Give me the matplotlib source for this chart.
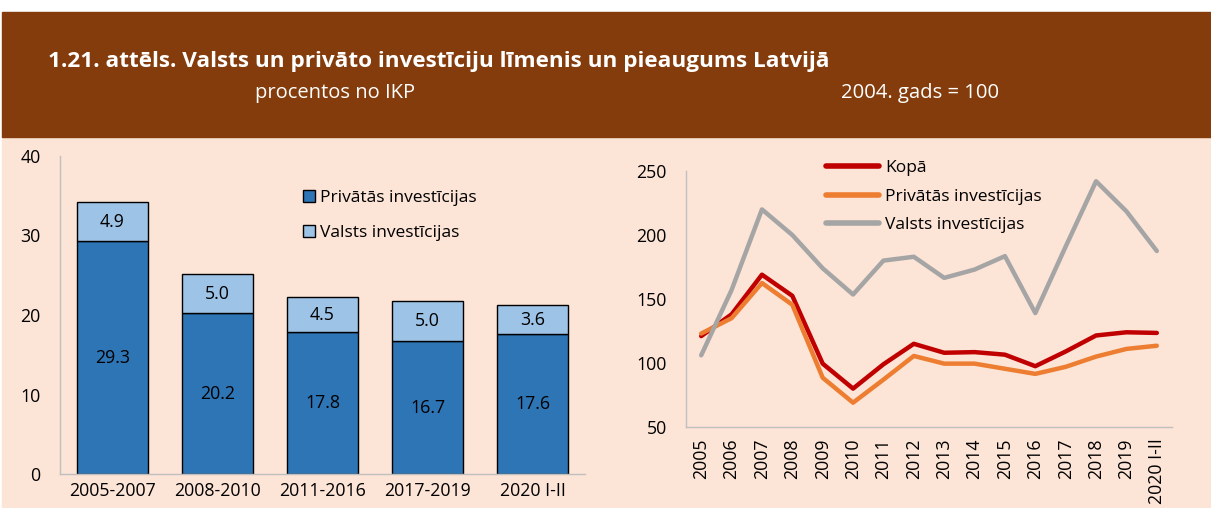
import matplotlib
matplotlib.use("Agg")
import matplotlib.pyplot as plt
from matplotlib.patches import Rectangle
from matplotlib.lines import Line2D

# ---- data ----
bar_categories = ["2005-2007", "2008-2010", "2011-2016", "2017-2019", "2020 I-II"]
private_share = [29.3, 20.2, 17.8, 16.7, 17.6]
public_share = [4.9, 5.0, 4.5, 5.0, 3.6]

years = ["2005", "2006", "2007", "2008", "2009", "2010", "2011", "2012",
         "2013", "2014", "2015", "2016", "2017", "2018", "2019", "2020 I-II"]
total_idx = [121, 138, 169, 152.5, 99.5, 80, 99, 115, 108, 108.5, 106.5, 97.5, 109, 121.5, 124, 123.5]
private_idx = [123, 135, 162.5, 145.5, 88.5, 69, 87, 105.5, 99.5, 99.5, 95.5, 91.5, 97, 105, 111, 113.5]
public_idx = [106, 157, 220, 200, 174, 153.5, 180, 183, 166.5, 173, 183.5, 139, 191, 242, 218.5, 187.5]

title = "1.21. attēls. Valsts un privāto investīciju līmenis un pieaugums Latvijā"
sub_left = "procentos no IKP"
sub_right = "2004. gads = 100"

# ---- style ----
BROWN = "#843C0C"
PALE = "#FCE4D6"
DARK_BLUE = "#2E75B6"
LIGHT_BLUE = "#9DC3E6"
RED = "#C00000"
ORANGE = "#ED7D31"
GREY = "#A5A5A5"
AXIS = "#BFBFBF"

plt.rcParams['font.family'] = ['Open Sans', 'DejaVu Sans']

W, H = 1211, 508
fig = plt.figure(figsize=(W / 100, H / 100), dpi=100, facecolor="white")

def fx(px):
    return px / W

def fy(py):
    return 1 - py / H

fig.patches.append(Rectangle((fx(2), fy(508)), fx(1211 - 2), (508 - 137) / H,
                             transform=fig.transFigure, color=PALE, zorder=-5))
fig.patches.append(Rectangle((fx(2), fy(137)), fx(1211 - 2), (137 - 12) / H,
                             transform=fig.transFigure, color=BROWN, zorder=-5))

fig.text(fx(48), fy(62), title, color="white", fontsize=16.2, fontweight="bold",
         va="center", ha="left")
fig.text(fx(255), fy(93), sub_left, color="white", fontsize=14.5, va="center", ha="left")
fig.text(fx(841), fy(93), sub_right, color="white", fontsize=14.6, va="center", ha="left")

FS = 12.8
FL = 12.5

# ---- left: stacked bars ----
L0, L1, LB, LT = 60, 585, 474, 156
axL = fig.add_axes([fx(L0), fy(LB), fx(L1 - L0), (LB - LT) / H])
axL.set_facecolor("none")
x = list(range(len(bar_categories)))
b1 = axL.bar(x, private_share, width=0.67, color=DARK_BLUE, edgecolor="black", linewidth=1)
b2 = axL.bar(x, public_share, bottom=private_share, width=0.67, color=LIGHT_BLUE,
             edgecolor="black", linewidth=1)
for i in x:
    axL.text(i, private_share[i] / 2, f"{private_share[i]:.1f}", ha="center", va="center",
             fontsize=FS, color="black")
    axL.text(i, private_share[i] + public_share[i] / 2, f"{public_share[i]:.1f}",
             ha="center", va="center", fontsize=FS, color="black")
axL.set_xlim(-0.5, len(bar_categories) - 0.5)
axL.set_ylim(0, 40)
axL.set_yticks([0, 10, 20, 30, 40])
axL.set_xticks(x)
axL.set_xticklabels(bar_categories)
axL.tick_params(axis="both", length=0, labelsize=FS, colors="black")
axL.tick_params(axis="y", pad=14)
axL.tick_params(axis="x", pad=6)
for s in ["top", "right"]:
    axL.spines[s].set_visible(False)
for s in ["left", "bottom"]:
    axL.spines[s].set_color(AXIS)
    axL.spines[s].set_linewidth(1)
axL.legend([b1, b2], ["Privātās investīcijas", "Valsts investīcijas"],
           loc="upper left",
           bbox_to_anchor=((296 - L0) / (L1 - L0), 1 - (183 - LT) / (LB - LT)),
           frameon=False, fontsize=FL, handlelength=0.7, handleheight=0.7,
           handletextpad=0.3, labelspacing=1.07, borderaxespad=0)

# ---- right: lines ----
R0, R1, RB, RT = 686, 1172, 427, 171
axR = fig.add_axes([fx(R0), fy(RB), fx(R1 - R0), (RB - RT) / H])
axR.set_facecolor("none")
xi = list(range(len(years)))
axR.plot(xi, total_idx, color=RED, linewidth=3.2, solid_capstyle="round")
axR.plot(xi, private_idx, color=ORANGE, linewidth=3.2, solid_capstyle="round")
axR.plot(xi, public_idx, color=GREY, linewidth=3.2, solid_capstyle="round")
axR.set_xlim(-0.5, len(years) - 0.5)
axR.set_ylim(50, 250)
axR.set_yticks([50, 100, 150, 200, 250])
axR.set_xticks(xi)
axR.set_xticklabels(years, rotation=90)
axR.tick_params(axis="both", length=0, labelsize=FS, colors="black")
axR.tick_params(axis="y", pad=13.7)
axR.tick_params(axis="x", pad=8)
for s in ["top", "right"]:
    axR.spines[s].set_visible(False)
for s in ["left", "bottom"]:
    axR.spines[s].set_color(AXIS)
    axR.spines[s].set_linewidth(1)
handles = [Line2D([], [], color=c, linewidth=4, solid_capstyle="round") for c in (RED, ORANGE, GREY)]
axR.legend(handles, ["Kopā", "Privātās investīcijas", "Valsts investīcijas"],
           loc="upper left",
           bbox_to_anchor=((819 - R0) / (R1 - R0), 1 - (153 - RT) / (RB - RT)),
           frameon=False, fontsize=FL, handlelength=3.05, handletextpad=0.35,
           labelspacing=0.72, borderaxespad=0)

fig.savefig("out.png", dpi=100, facecolor="white")
